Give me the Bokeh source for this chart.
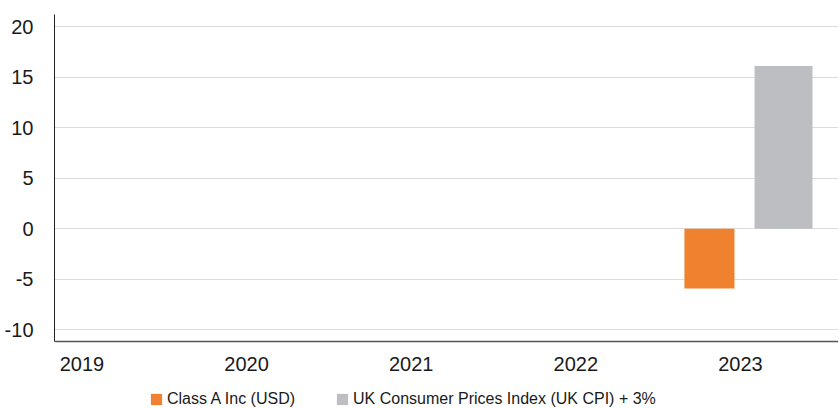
from bokeh.plotting import figure
from bokeh.models import ColumnDataSource, Range1d, FixedTicker, Legend, LegendItem
from bokeh.embed import file_html
from bokeh.resources import INLINE

# ---- data ----
years = ["2019", "2020", "2021", "2022", "2023"]
class_a = [float("nan"), float("nan"), float("nan"), float("nan"), -5.9]
uk_cpi = [float("nan"), float("nan"), float("nan"), float("nan"), 16.1]
series_names = ["Class A Inc (USD)", "UK Consumer Prices Index (UK CPI) + 3%"]
y_ticks = [-10, -5, 0, 5, 10, 15, 20]

# ---- layout ----
idx = list(range(len(years)))
orange = "#F0812F"
grey = "#BDBEC2"
Y_AXIS_BOTTOM = -11.2
Y_TOP = 21.19

src = ColumnDataSource(dict(
    year=years,
    xa=[i - 0.188 for i in idx],
    xb=[i + 0.262 for i in idx],
    a=class_a,
    b=uk_cpi,
))

p = figure(width=839, height=408, output_backend="svg", toolbar_location=None,
           x_range=Range1d(-0.167, 4.596), y_range=Range1d(-17.78, Y_TOP),
           min_border_left=54, min_border_right=1, min_border_top=14,
           min_border_bottom=0)
p.outline_line_color = None
p.background_fill_color = "white"

r1 = p.vbar(x="xa", top="a", bottom=0, width=0.304, source=src,
            fill_color=orange, line_color=None)
r2 = p.vbar(x="xb", top="b", bottom=0, width=0.352, source=src,
            fill_color=grey, line_color=None)

p.xaxis.ticker = FixedTicker(ticks=idx)
p.xaxis.major_label_overrides = {i: y for i, y in zip(idx, years)}
p.xaxis.fixed_location = Y_AXIS_BOTTOM
p.yaxis.ticker = FixedTicker(ticks=y_ticks)
p.yaxis.major_label_overrides = {v: str(v) for v in y_ticks}
p.yaxis.bounds = (Y_AXIS_BOTTOM, Y_TOP)

for ax in (p.xaxis[0], p.yaxis[0]):
    ax.major_tick_line_color = None
    ax.minor_tick_line_color = None
    ax.major_label_text_font = "Liberation Sans"
    ax.major_label_text_font_size = "20px"
    ax.major_label_text_color = "#1a1a1a"
p.xaxis.axis_line_color = "#555555"
p.xaxis.axis_line_width = 1.5
p.yaxis.axis_line_color = "#222222"
p.xaxis.major_label_standoff = 9
p.yaxis.major_label_standoff = 15

p.xgrid.grid_line_color = None
p.ygrid.grid_line_color = "#DCDCDC"
p.ygrid.grid_line_width = 1

legend = Legend(items=[LegendItem(label=series_names[0], renderers=[r1]),
                       LegendItem(label=series_names[1], renderers=[r2])],
                orientation="horizontal", location=(95, 0),
                label_text_font="Liberation Sans", label_text_font_size="16px",
                label_text_color="#1a1a1a", glyph_width=14, glyph_height=14,
                label_height=14, label_standoff=4, spacing=40, padding=0, margin=0,
                border_line_color=None, background_fill_alpha=0)
p.add_layout(legend, "center")

open("out.html", "w").write(file_html(p, INLINE))
